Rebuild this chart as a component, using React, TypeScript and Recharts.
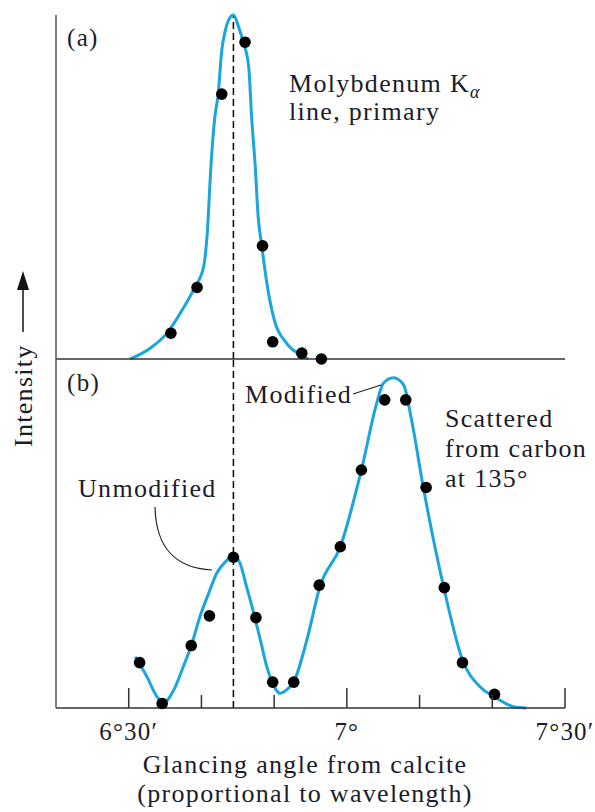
import React from 'react';
import { ComposedChart, Line, Scatter, XAxis, YAxis, ReferenceLine } from 'recharts';

// angle in minutes of arc (6°20' = 380), intensity in arbitrary units (0-100)
const primaryCurve: [number, number][] = [
  [390.2, 0], [393.0, 3.2], [395.3, 7.6], [397.2, 13.7], [399.1, 20.9], [400.3, 26.8],
  [400.8, 36.6], [401.3, 55.8], [401.8, 69.5], [402.3, 77.0], [402.8, 89.8], [403.3, 95.6],
  [403.8, 98.8], [404.4, 100], [405.1, 96.6], [405.8, 91.8], [406.5, 85.0], [406.9, 70.4],
  [407.4, 55.9], [407.8, 41.4], [408.3, 32.9], [409.0, 22.0], [409.9, 12.3], [411.7, 4.6],
  [413.6, 1.2], [414.7, 0],
];
const primaryPoints: [number, number][] = [
  [395.8, 7.5], [399.4, 20.8], [402.8, 77.0], [406.0, 92.1],
  [408.4, 32.9], [409.8, 5.0], [413.8, 1.7], [416.5, 0],
];

const scatteredCurve: [number, number][] = [
  [390.9, 14.7], [392.5, 9.0], [393.9, 3.2], [394.8, 1.5], [396.2, 5.2], [397.5, 11.8],
  [398.7, 18.5], [399.8, 26.2], [401.0, 32.9], [402.1, 38.6], [403.3, 41.9], [404.4, 43.6],
  [405.3, 41.5], [406.2, 34.8], [407.2, 27.1], [408.1, 19.5], [409.0, 11.8], [409.9, 6.6],
  [410.8, 4.2], [411.7, 5.2], [412.7, 7.5], [414.5, 19.5], [416.3, 34.8], [419.1, 46.2],
  [422.0, 68.2], [424.1, 87.3], [425.0, 93.0], [426.4, 94.6], [427.8, 92.6], [428.9, 82.5],
  [430.5, 63.4], [433.3, 34.8], [435.9, 13.8], [438.3, 6.1], [440.3, 3.2], [442.9, 0.4],
  [444.7, 0],
];
const scatteredPoints: [number, number][] = [
  [391.5, 13.0], [394.6, 1.3], [398.6, 17.9], [401.1, 26.4], [404.4, 43.2], [407.5, 25.9],
  [409.8, 7.4], [412.7, 7.4], [416.2, 35.2], [419.1, 46.2], [422.0, 68.2], [425.2, 88.3],
  [428.1, 88.3], [430.9, 63.2], [433.4, 34.5], [435.9, 13.0], [440.3, 3.9],
];

const angleTicks = [390, 400, 410, 420, 430, 440, 450];
const angleTickLabels: Record<number, string> = { 390: '6°30′', 420: '7°', 450: '7°30′' };
const unmodifiedAngle = 404.4;

const CURVE = '#1aa5de';
const AXIS = '#333';
const INK = '#1c1c2a';
const FONT = '"Liberation Serif", "Times New Roman", serif';

const toRows = (pts: [number, number][]) => pts.map(([x, y]) => ({ x, y }));

const Dot = (props: any) => <circle cx={props.cx} cy={props.cy} r={5.8} fill="#000" />;

const AngleTick = (props: any) => {
  const { x, y, payload } = props;
  const label = angleTickLabels[payload.value];
  const len = label ? 20 : 13;
  return (
    <g>
      <line x1={x} x2={x} y1={y} y2={y - len} stroke={AXIS} strokeWidth={1.5} />
      {label && (
        <text x={x} y={y + 32} textAnchor="middle" fontFamily={FONT} fontSize={25} letterSpacing={1.2} fill={INK}>
          {label}
        </text>
      )}
    </g>
  );
};

const txt = { fontFamily: FONT, fontSize: 26, letterSpacing: 1.3, fill: INK } as const;

export default function App() {
  return (
    <div style={{ position: 'absolute', left: 0, top: 0, width: 595, height: 812, background: '#fff' }}>
      {/* (a) primary line */}
      <div style={{ position: 'absolute', left: 0, top: 0 }}>
        <ComposedChart width={595} height={370} margin={{ top: 15, right: 30, bottom: 10, left: 55 }}>
          <XAxis dataKey="x" type="number" domain={[380, 450]} tick={false} tickLine={false} height={1}
            axisLine={{ stroke: AXIS, strokeWidth: 1.5 }} />
          <YAxis type="number" domain={[0, 100]} tick={false} tickLine={false} width={1}
            axisLine={{ stroke: '#555', strokeWidth: 1.5 }} />
          <ReferenceLine x={unmodifiedAngle} stroke="#000" strokeWidth={1.5} strokeDasharray="7 4" />
          <Line data={toRows(primaryCurve)} dataKey="y" type="monotone" stroke={CURVE} strokeWidth={3}
            dot={false} isAnimationActive={false} />
          <Scatter data={toRows(primaryPoints)} dataKey="y" shape={Dot} isAnimationActive={false} />
        </ComposedChart>
      </div>

      {/* (b) scattered from carbon */}
      <div style={{ position: 'absolute', left: 0, top: 359 }}>
        <ComposedChart width={595} height={453} margin={{ top: 0, right: 30, bottom: 64, left: 55 }}
          style={{ overflow: 'visible' }}>
          <XAxis dataKey="x" type="number" domain={[380, 450]} ticks={angleTicks} tick={<AngleTick />}
            tickLine={false} tickSize={0} tickMargin={0} height={40} interval={0}
            axisLine={{ stroke: AXIS, strokeWidth: 1.5 }} />
          <YAxis type="number" domain={[0, 100]} tick={false} tickLine={false} width={1}
            axisLine={{ stroke: '#555', strokeWidth: 1.5 }} />
          <ReferenceLine x={unmodifiedAngle} stroke="#000" strokeWidth={1.5} strokeDasharray="7 4" />
          <Line data={toRows(scatteredCurve)} dataKey="y" type="monotone" stroke={CURVE} strokeWidth={3}
            dot={false} isAnimationActive={false} />
          <Scatter data={toRows(scatteredPoints)} dataKey="y" shape={Dot} isAnimationActive={false} />
        </ComposedChart>
      </div>

      {/* annotations */}
      <svg width={595} height={812} style={{ position: 'absolute', left: 0, top: 0, pointerEvents: 'none', overflow: 'visible' }}>
        <text x={67} y={46} {...txt} fontSize={25}>(a)</text>
        <text x={67} y={391} {...txt} fontSize={25}>(b)</text>

        <text x={289} y={92} {...txt}>
          Molybdenum K<tspan fontSize={18} fontStyle="italic" dy={6}>α</tspan>
        </text>
        <text x={289} y={120} {...txt}>line, primary</text>

        <text x={245} y={403} {...txt}>Modified</text>
        <line x1={353} y1={394} x2={381} y2={385} stroke="#222" strokeWidth={1.2} />

        <text x={445} y={427} {...txt}>Scattered</text>
        <text x={445} y={457} {...txt}>from carbon</text>
        <text x={445} y={487} {...txt}>at 135°</text>

        <text x={78} y={497} {...txt}>Unmodified</text>
        <path d="M155 507 C 156 548, 175 568, 212 570" fill="none" stroke="#222" strokeWidth={1.2} />

        <text transform="translate(31.5,447) rotate(-90)" {...txt}>Intensity</text>
        <line x1={23} y1={332} x2={23} y2={285} stroke="#111" strokeWidth={1.5} />
        <polygon points="23,271 17,290 29,290" fill="#111" />

        <text x={305} y={773} {...txt} textAnchor="middle">Glancing angle from calcite</text>
        <text x={305} y={802} {...txt} textAnchor="middle">(proportional to wavelength)</text>
      </svg>
    </div>
  );
}
